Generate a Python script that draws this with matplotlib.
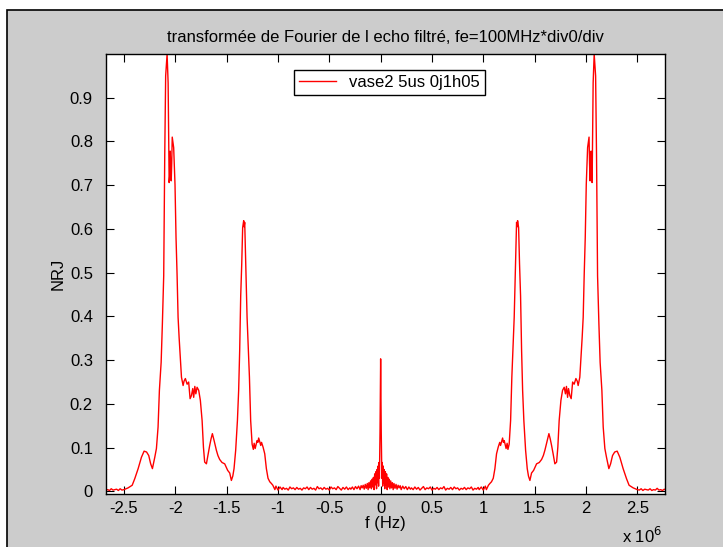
import numpy as np
import matplotlib
matplotlib.use("Agg")
import matplotlib.pyplot as plt
from matplotlib.patches import Rectangle

# spectrum of a real signal -> symmetric, values read for f >= 0 (MHz)
F_CENTER = [0.000, 0.006, 0.012, 0.016, 0.020, 0.025, 0.030, 0.035, 0.040, 0.046,
            0.052, 0.058, 0.064, 0.070, 0.076, 0.082, 0.090, 0.098, 0.106, 0.114,
            0.122, 0.130, 0.140, 0.150, 0.160, 0.170, 0.180, 0.190, 0.200, 0.215,
            0.230, 0.245, 0.260, 0.275, 0.290]
V_CENTER = [0.303, 0.135, 0.030, 0.066, 0.012, 0.058, 0.020, 0.050, 0.006, 0.045,
            0.015, 0.040, 0.004, 0.032, 0.010, 0.028, 0.006, 0.024, 0.008, 0.020,
            0.004, 0.018, 0.007, 0.016, 0.005, 0.014, 0.008, 0.013, 0.004, 0.012,
            0.006, 0.011, 0.004, 0.010, 0.005]

# noise floor between the centre spike and the first echo band (0.30 .. 0.95 MHz)
NOISE_MID = [0.008, 0.004, 0.010, 0.005, 0.009, 0.003, 0.007, 0.011, 0.004, 0.008,
             0.006, 0.010, 0.003, 0.007, 0.005, 0.009, 0.004, 0.008, 0.006, 0.011,
             0.003, 0.007, 0.005, 0.009, 0.004, 0.010, 0.006, 0.008, 0.003, 0.007,
             0.005, 0.009, 0.004, 0.008, 0.006, 0.010, 0.003, 0.007, 0.005, 0.009]

F_PEAKS = [0.96, 0.98, 1.00, 1.02, 1.03, 1.05, 1.064, 1.08, 1.097, 1.113,
           1.129, 1.145, 1.160, 1.168, 1.178, 1.188, 1.196, 1.204, 1.215, 1.222,
           1.232, 1.240, 1.252, 1.266, 1.278, 1.288, 1.301, 1.311, 1.324, 1.330,
           1.334, 1.344, 1.353, 1.363, 1.373, 1.383, 1.395, 1.412, 1.428, 1.440,
           1.454, 1.470, 1.490, 1.519, 1.545, 1.568, 1.585, 1.600, 1.622, 1.639,
           1.652, 1.665, 1.680, 1.697, 1.714, 1.726, 1.739, 1.756, 1.772, 1.788,
           1.800, 1.810, 1.821, 1.830, 1.843, 1.856, 1.870, 1.885, 1.902, 1.915,
           1.924, 1.940, 1.950, 1.963, 1.973, 1.983, 1.993, 2.003, 2.016, 2.030,
           2.035, 2.040, 2.050, 2.055, 2.060, 2.070, 2.080, 2.094, 2.103, 2.113,
           2.126, 2.138, 2.155, 2.168, 2.184, 2.200, 2.223, 2.240, 2.259, 2.280,
           2.304, 2.330, 2.362, 2.395, 2.420, 2.460, 2.500]
V_PEAKS = [0.004, 0.010, 0.003, 0.012, 0.004, 0.014, 0.018, 0.022, 0.030, 0.052,
           0.086, 0.101, 0.112, 0.105, 0.114, 0.122, 0.112, 0.116, 0.105, 0.098,
           0.110, 0.096, 0.108, 0.162, 0.261, 0.322, 0.398, 0.489, 0.615, 0.605,
           0.619, 0.603, 0.520, 0.447, 0.322, 0.231, 0.162, 0.094, 0.052, 0.035,
           0.025, 0.042, 0.048, 0.063, 0.066, 0.073, 0.082, 0.094, 0.116, 0.132,
           0.120, 0.105, 0.086, 0.063, 0.067, 0.101, 0.162, 0.208, 0.231, 0.238,
           0.223, 0.240, 0.215, 0.235, 0.219, 0.212, 0.250, 0.245, 0.258, 0.252,
           0.242, 0.261, 0.300, 0.352, 0.398, 0.497, 0.580, 0.702, 0.786, 0.810,
           0.750, 0.710, 0.778, 0.720, 0.706, 0.934, 1.000, 0.950, 0.767, 0.493,
           0.383, 0.295, 0.231, 0.147, 0.098, 0.078, 0.052, 0.063, 0.082, 0.090,
           0.092, 0.078, 0.052, 0.029, 0.014, 0.008, 0.004]

# tail noise 2.52 .. 2.78 MHz
NOISE_TAIL = [0.003, 0.006, 0.002, 0.005, 0.004, 0.003, 0.006, 0.002, 0.004, 0.003,
              0.007, 0.003, 0.004, 0.002, 0.005, 0.003]

XTICKS = [-2.5, -2, -1.5, -1, -0.5, 0, 0.5, 1, 1.5, 2, 2.5]
XTICKLABELS = ["-2.5", "-2", "-1.5", "-1", "-0.5", "0", "0.5", "1", "1.5", "2", "2.5"]
YTICKS = [0, 0.1, 0.2, 0.3, 0.4, 0.5, 0.6, 0.7, 0.8, 0.9]
YTICKLABELS = ["0", "0.1", "0.2", "0.3", "0.4", "0.5", "0.6", "0.7", "0.8", "0.9"]

pos_f = np.concatenate([F_CENTER, np.linspace(0.30, 0.95, len(NOISE_MID)),
                        F_PEAKS, np.linspace(2.52, 2.78, len(NOISE_TAIL))])
pos_v = np.concatenate([V_CENTER, NOISE_MID, V_PEAKS, NOISE_TAIL])
f = np.concatenate([-pos_f[1:][::-1], pos_f]) * 1e6
v = np.concatenate([pos_v[1:][::-1], pos_v])

plt.rcParams["font.family"] = ["Liberation Sans", "DejaVu Sans"]
FS = 12
W, H = 723, 547
fig = plt.figure(figsize=(W / 100, H / 100), dpi=100, facecolor="white")
# matlab-style grey figure panel with the black frame on top/left
fig.patches.append(Rectangle((7 / W, -0.01), 1.0, (H - 10) / H + 0.01, transform=fig.transFigure,
                             facecolor="#cccccc", edgecolor="black", linewidth=1.2, zorder=-5))

ax = fig.add_axes([105.5 / W, (H - 494) / H, 559 / W, 440 / H])
ax.plot(f, v, color="#ff0000", linewidth=1.0, label="vase2 5us 0j1h05")
ax.set_xlim(-2.68e6, 2.765e6)
ax.set_ylim(-0.006, 1.0)
ax.set_xticks([t * 1e6 for t in XTICKS])
ax.set_xticklabels(XTICKLABELS)
ax.set_yticks(YTICKS)
ax.set_yticklabels(YTICKLABELS)
ax.tick_params(direction="in", length=5.5, width=0.8, top=True, right=True,
               labelsize=FS, pad=5)
ax.tick_params(axis="y", pad=9)
for s in ax.spines.values():
    s.set_linewidth(1.0)

ax.set_title("transformée de Fourier de l echo filtré, fe=100MHz*div0/div", fontsize=FS, pad=9)
ax.set_xlabel("f (Hz)", fontsize=FS, labelpad=0)
ax.set_ylabel("NRJ", fontsize=FS, labelpad=3)
fig.text(662 / W, 1 - 543 / H, r"x 10$^{6}$", ha="right", va="baseline", fontsize=FS)

leg = ax.legend(loc="upper left", bbox_to_anchor=(294 / W, 1 - 69.5 / H),
                bbox_transform=fig.transFigure, borderaxespad=0, fontsize=FS,
                handlelength=2.2, handletextpad=0.8, borderpad=0.3,
                fancybox=False, framealpha=1, edgecolor="black")
leg.get_frame().set_linewidth(1.0)

fig.savefig("out.png", dpi=100, facecolor=fig.get_facecolor())
